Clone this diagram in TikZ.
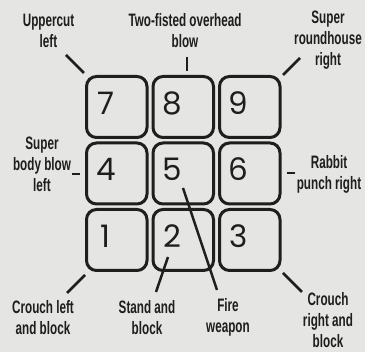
\documentclass[tikz,border=0pt]{standalone}
\usepackage{fontspec}
\newfontfamily\lblfont{Liberation Sans}[FakeStretch=0.65]
\newfontfamily\numfont{Poppins}
\definecolor{bgc}{HTML}{E5E5E3}
\definecolor{ink}{HTML}{1E1E1E}
\begin{document}
\begin{tikzpicture}[x=1pt,y=-1pt,
  keybox/.style={draw=ink, line width=3pt, rounded corners=10pt, minimum width=60.5pt, minimum height=61pt, inner sep=0pt},
  numtxt/.style={text=ink, inner sep=0pt, font=\numfont\fontsize{31}{31}\selectfont},
  lbl/.style={text=ink, inner sep=0pt, align=center, font=\lblfont\bfseries\fontsize{18}{21}\selectfont},
  conn/.style={draw=ink, line width=2.5pt}]
\fill[bgc] (0,0) rectangle (365,352);
\useasboundingbox (0,0) rectangle (365,352);
% keys
\node[keybox] (k7) at (116.75,107) {};
\node[keybox] (k8) at (183.25,107) {};
\node[keybox] (k9) at (249.75,107) {};
\node[keybox] (k4) at (116.75,173.5) {};
\node[keybox] (k5) at (183.25,173.5) {};
\node[keybox] (k6) at (249.75,173.5) {};
\node[keybox] (k1) at (116.75,240) {};
\node[keybox] (k2) at (183.25,240) {};
\node[keybox] (k3) at (249.75,240) {};
% numbers
\node[numtxt] (n7) at (105.75,103) {7};
\node[numtxt] (n8) at (172.25,103) {8};
\node[numtxt] (n9) at (238.75,103) {9};
\node[numtxt] (n4) at (105.75,169.5) {4};
\node[numtxt] (n5) at (172.25,169.5) {5};
\node[numtxt] (n6) at (238.75,169.5) {6};
\node[numtxt] (n1) at (105.75,236) {1};
\node[numtxt] (n2) at (172.25,236) {2};
\node[numtxt] (n3) at (238.75,236) {3};
% labels
\node[lbl] (l7) at (48.5,31) {Uppercut\\left};
\node[lbl] (l8) at (185,31) {Two-fisted overhead\\blow};
\node[lbl] (l9) at (328,40) {Super\\roundhouse\\right};
\node[lbl] (l4) at (42,164) {Super\\body blow\\left};
\node[lbl] (l6) at (329,174.5) {Rabbit\\punch right};
\node[lbl] (l1) at (43,317.5) {Crouch left\\and block};
\node[lbl] (l2) at (147,317.5) {Stand and\\block};
\node[lbl] (lf) at (228,317.5) {Fire\\weapon};
\node[lbl] (l3) at (328,320) {Crouch\\right and\\block};
% connector ends
\coordinate (a7) at (66,55);   \coordinate (b7) at (84,73);
\coordinate (a8) at (187,57);  \coordinate (b8) at (187,71);
\coordinate (a9) at (300,58);  \coordinate (b9) at (283,75);
\coordinate (a4) at (72,174);  \coordinate (b4) at (80,174);
\coordinate (a6) at (295,173); \coordinate (b6) at (287,173);
\coordinate (a1) at (67,293);  \coordinate (b1) at (85,275);
\coordinate (a2) at (156,292); \coordinate (b2) at (168,257);
\coordinate (af) at (217,290); \coordinate (bf) at (183,188);
\coordinate (a3) at (302,292); \coordinate (b3) at (283,273);
\draw[conn] (a7) -- (b7);
\draw[conn] (a8) -- (b8);
\draw[conn] (a9) -- (b9);
\draw[conn] (a4) -- (b4);
\draw[conn] (a6) -- (b6);
\draw[conn] (a1) -- (b1);
\draw[conn] (a2) -- (b2);
\draw[conn] (af) -- (bf);
\draw[conn] (a3) -- (b3);
\end{tikzpicture}
\end{document}
